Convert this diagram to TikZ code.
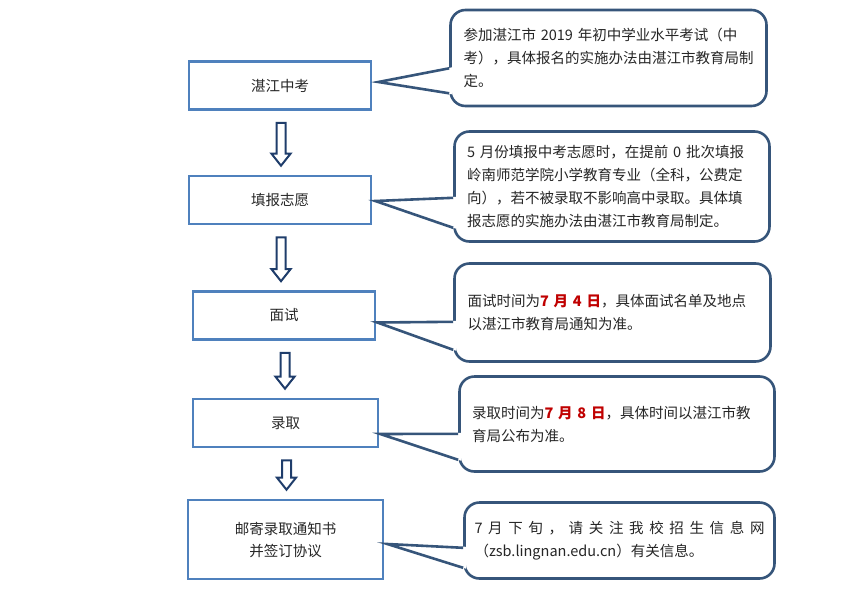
\documentclass[tikz,border=0pt]{standalone}
\usepackage{xcolor}
\usepackage{fontspec}
\setmainfont{Noto Sans CJK SC}
\usetikzlibrary{calc}

\definecolor{boxblue}{HTML}{4F81BD}
\definecolor{calloutblue}{HTML}{36557A}
\definecolor{arrowblue}{HTML}{1F3D6B}
\definecolor{datered}{HTML}{C00000}

% hollow block arrow from one box down to the next
\newcommand{\flowarrow}[2]{%
  \coordinate (s) at ($(#1.south)+(1,12)$);
  \coordinate (t) at ($(#1.south |- #2.north)+(1,-9)$);
  \draw[arr] ($(s)+(-4.5,0)$) -- ($(t)+(-4.5,-12)$) -- ($(t)+(-9.5,-12)$) -- (t)
    -- ($(t)+(9.5,-12)$) -- ($(t)+(4.5,-12)$) -- ($(s)+(4.5,0)$) -- cycle;}

% wedge of a callout pointing back to its box
\newcommand{\pointer}[5]{%
  \coordinate (tip) at ($(#1.east)+(#3)$);
  \coordinate (up) at ($(#2.south west)+(0,-#4)$);
  \coordinate (lo) at ($(#2.south west)+(0,-#5)$);
  \fill[white] ($(up)+(3,-1)$) -- (tip) -- ($(lo)+(3,1)$) -- cycle;
  \draw[pointer] (up) -- (tip) -- (lo);}

\begin{document}
\begin{tikzpicture}[x=1pt, y=-1pt,
  box/.style={draw=boxblue, line width=2.6pt, minimum width=182pt, minimum height=48pt,
    text=black!85, font=\fontsize{14.5}{22}\selectfont, align=center},
  callout/.style={draw=calloutblue, line width=2.6pt, rounded corners=15pt, fill=white,
    text=black!85, font=\fontsize{14.5}{23}\selectfont, text width=290pt, align=left},
  pointer/.style={draw=calloutblue, line width=2.6pt},
  arr/.style={draw=arrowblue, line width=2pt, fill=white, line join=miter}]
\useasboundingbox (0,0) rectangle (850,589);

\node[box] (zk) at (280,85.5) {湛江中考};
\node[box] (zy) at (280,200) {填报志愿};
\node[box] (ms) at (284,315.5) {面试};
\node[box, minimum width=185pt] (lq) at (285.5,423) {录取};
\node[box, minimum width=195pt, minimum height=79pt] (yj) at (285.5,539.5) {邮寄录取通知书\\并签订协议};

\flowarrow{zk}{zy}
\flowarrow{zy}{ms}
\flowarrow{ms}{lq}
\flowarrow{lq}{yj}

\node[callout, minimum width=316pt, minimum height=96pt] (c1) at (608.5,58) {参加湛江市 2019 年初中学业水平考试（中\\考），具体报名的实施办法由湛江市教育局制\\定。};
\node[callout, minimum width=315pt, minimum height=110pt] (c2) at (612,186.5) {5 月份填报中考志愿时，在提前 0 批次填报\\岭南师范学院小学教育专业（全科，公费定\\向），若不被录取不影响高中录取。具体填\\报志愿的实施办法由湛江市教育局制定。};
\node[callout, minimum width=316pt, minimum height=98pt] (c3) at (612.5,312.5) {面试时间为\textcolor{datered}{\textbf{7 月 4 日}}，具体面试名单及地点\\以湛江市教育局通知为准。};
\node[callout, minimum width=315pt, minimum height=95pt] (c4) at (617,424) {录取时间为\textcolor{datered}{\textbf{7 月 8 日}}，具体时间以湛江市教\\育局公布为准。};
\node[callout, minimum width=310pt, minimum height=76pt] (c5) at (619.5,540.5) {\makebox[290pt][s]{7\hfill 月\hfill 下\hfill 旬\hfill ，\hfill 请\hfill 关\hfill 注\hfill 我\hfill 校\hfill 招\hfill 生\hfill 信\hfill 息\hfill 网}\\（zsb.lingnan.edu.cn）有关信息。};

\pointer{zk}{c1}{6,-3.5}{39}{14}
\pointer{zy}{c2}{3,1}{45}{15}
\pointer{ms}{c3}{1,7}{41}{13}
\pointer{lq}{c4}{1,11}{39}{13}
\pointer{yj}{c5}{3,4.5}{32}{12}
\end{tikzpicture}
\end{document}
